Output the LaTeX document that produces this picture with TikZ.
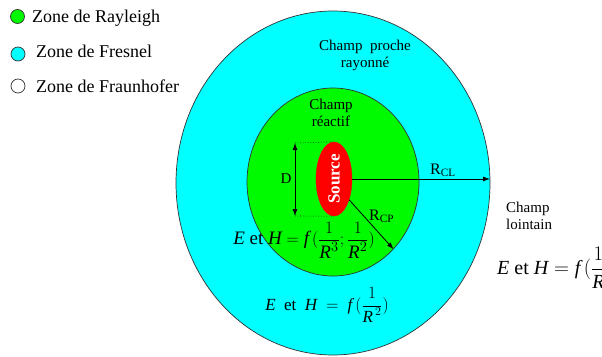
\documentclass[tikz,border=0pt]{standalone}
\usepackage{fontspec}
\setmainfont{Liberation Serif}
\usetikzlibrary{shapes.geometric,arrows.meta}
\newcommand{\FI}[1]{\textit{#1}}
\definecolor{zgreen}{RGB}{0,250,0}
\definecolor{zcyan}{RGB}{0,255,255}
\definecolor{zred}{RGB}{255,0,0}
\begin{document}
\begin{tikzpicture}[x=1pt,y=-1pt,
  zone/.style={ellipse,draw=black!80,line width=0.7pt,inner sep=0pt},
  legdot/.style={circle,draw=black!80,line width=0.7pt,minimum size=14pt,inner sep=0pt},
  legtxt/.style={anchor=base west,font=\fontsize{18}{20}\selectfont,inner sep=0pt},
  lbl/.style={font=\fontsize{15}{17}\selectfont,align=center,inner sep=0pt},
  eq/.style={font=\fontsize{19}{21}\selectfont,inner sep=0pt},
  arr/.style={-{Latex[length=7pt,width=5pt]},line width=0.8pt},
  darr/.style={{Latex[length=7pt,width=5pt]}-{Latex[length=7pt,width=5pt]},line width=0.8pt}]
\clip (0,0) rectangle (602,356);
\fill[white] (0,0) rectangle (602,356);
% legend
\node[legdot,fill=zgreen] (l1) at (17.5,16.5) {};
\node[legtxt] (t1) at (32,22) {Zone de Rayleigh};
\node[legdot,fill=zcyan] (l2) at (18,54) {};
\node[legtxt] (t2) at (36,57) {Zone de Fresnel};
\node[legdot,fill=white] (l3) at (18,86) {};
\node[legtxt] (t3) at (36,92) {Zone de Fraunhofer};
% zones
\node[zone,fill=zcyan,minimum width=314pt,minimum height=344pt] (outer) at (333,183) {};
\node[zone,fill=zgreen,minimum width=172pt,minimum height=188pt] (green) at (333,182) {};
\node[ellipse,fill=zred,draw=zred,minimum width=36pt,minimum height=74pt,inner sep=0pt] (src) at (334,179) {};
\node[rotate=90,text=white,font=\bfseries\fontsize{17}{19}\selectfont] (srct) at (src.center) {Source};
% labels
\node[lbl] (cpr) at (365,55) {Champ\ \ proche\\rayonné};
\node[lbl] (cre) at (331,113) {Champ\\réactif};
\node[lbl,align=left,anchor=west] (clo) at (506,216) {Champ\\lointain};
% D dimension
\coordinate (dtop) at (295,143);
\coordinate (dbot) at (295,216);
\draw[dotted,line width=0.6pt] (dtop) -- (src.north);
\draw[dotted,line width=0.6pt] (dbot) -- (src.south);
\draw[darr] (dtop) -- (dbot);
\node[font=\fontsize{15}{17}\selectfont] (dl) at (286,179) {D};
% radii
\coordinate (rclend) at (490,179);
\draw[arr] (src.east) -- (rclend);
\node[font=\fontsize{16}{18}\selectfont,anchor=base west,inner sep=0pt] (rcl) at (430,174) {R\textsubscript{CL}};
\draw[arr] (src.-54) -- (green.-48);
\node[font=\fontsize{16}{18}\selectfont,anchor=base west,inner sep=0pt] (rcp) at (369,220) {R\textsubscript{CP}};
% formulas
\node[eq] (f1) at (304,240) {$\displaystyle \FI{E}\ \mbox{et}\ \FI{H} = \FI{f}\,(\frac{1}{\FI{R}^{3}};\frac{1}{\FI{R}^{2}})$};
\node[eq,font=\fontsize{17}{19}\selectfont] (f2) at (327,305) {$\displaystyle \FI{E}\ \ \mbox{et}\ \ \FI{H}\ = \ \FI{f}\,(\frac{1}{\FI{R}^{\,2}})$};
\node[eq,anchor=west,font=\fontsize{20}{22}\selectfont] (f3) at (497,268) {$\displaystyle \FI{E}\ \mbox{et}\ \FI{H} = \FI{f}\,(\frac{1}{\FI{R}})$};
\end{tikzpicture}
\end{document}
